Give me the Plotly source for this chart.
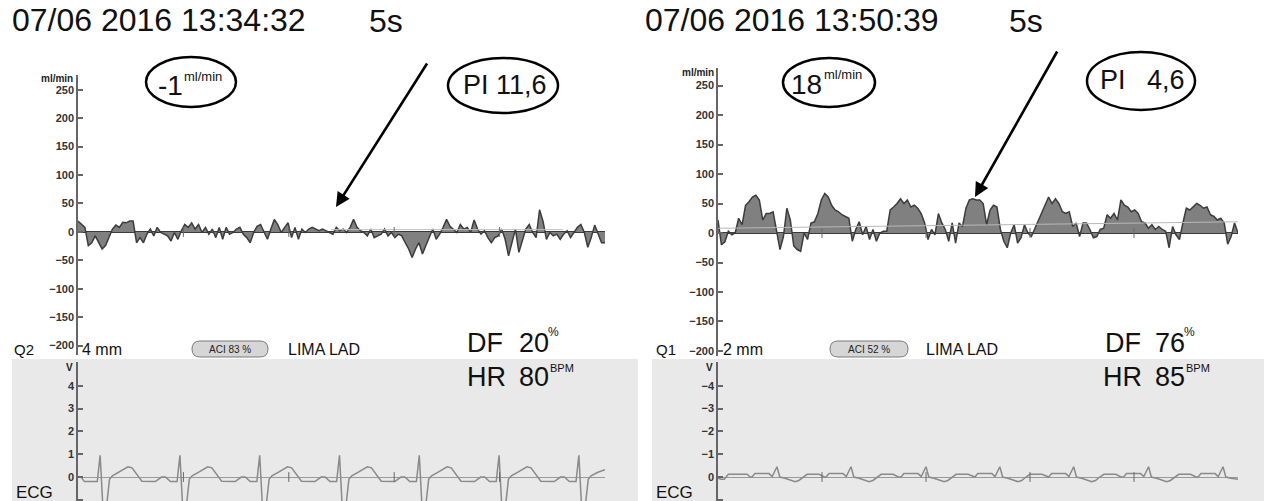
import plotly.graph_objects as go

W, H = 1264, 501
def px(x): return x / W
def py(y): return 1 - y / H

FONT = "Liberation Sans, Arial, sans-serif"

# ---------------- data ----------------
flow_left = [19, 13, 8, -24, -19, -7, -19, -30, -24, -10, 5, 12, 8, 17, 16, 19, 19, -19, -10, -19,
             -4, 5, -7, 8, -1, -4, -7, -16, -1, -13, 2, 13, 8, 16, 5, 13, -1, 8, -4, 5,
             -10, 8, -13, 8, -4, -1, 5, 8, -4, -10, -19, -1, 10, 13, -1, -13, 5, 22, 13, -1,
             8, 16, -10, 8, -13, 5, -1, 5, 8, 5, 2, 5, 2, -1, -4, 8, 2, 5, -1, 8,
             22, 8, 2, -1, -7, 5, -10, -7, -4, 5, -7, -1, -10, -4, -7, -19, -30, -45, -30, -19,
             -39, -24, -10, 5, -13, -4, 8, 22, 10, 5, -1, 13, 5, 8, -1, 21, 5, -4, 2, -10,
             -19, -10, -7, 5, -13, -42, -19, 5, -36, -13, 5, 13, -1, -10, 39, 19, -13, -1, -7, -4,
             -13, -4, 2, -10, -1, 8, 13, -1, -27, -10, 12, -4, -19, -19]
flow_right = [22, -20, -15, 3, -3, 0, 25, 14, 47, 53, 61, 64, 56, 22, 33, 33, 36, 6, -28, -6,
              42, 22, -22, -28, -31, 0, -11, 17, 19, 33, 56, 67, 61, 47, 39, 36, 31, 28, 25, -14,
              6, 19, -3, 11, -11, 6, -14, 0, 3, 3, 39, 44, 50, 58, 50, 56, 44, 47, 42, 33,
              17, -11, 6, -3, 33, 17, 6, -14, 17, -17, 17, 11, 42, 56, 58, 56, 56, 50, 14, 39,
              47, 44, 6, -14, -25, 0, 14, -17, -8, 14, 0, -6, 8, 22, 33, 50, 61, 50, 58, 50,
              36, 33, 36, 11, 17, -6, 17, 17, 6, -8, -6, 6, 8, 31, 25, 33, 22, 56, 47, 44,
              36, 39, 33, 19, 17, 8, 14, 6, 11, 6, 3, -25, 11, -3, -11, 17, 42, 39, 44, 50,
              47, 42, 44, 31, 28, 22, 25, 17, -19, -6, 17, 0]
flow_mean_left_t = [2.4, 4.6]
flow_mean_left_v = [4, 4]
flow_mean_right_t = [0.0, 5.0]
flow_mean_right_v = [8, 19]
flow_ticks = [250, 200, 150, 100, 50, 0, -50, -100, -150, -200]
second_marks = [1, 2, 3, 4]

# left ECG: R-peak times (s) and one read beat shape
ecg_left_peaks = [0.210, 0.967, 1.724, 2.481, 3.238, 3.995, 4.752]
ecg_left_beat_dt = [-0.027, 0, 0.027, 0.058, 0.089, 0.116, 0.175, 0.264, 0.303, 0.369, 0.396, 0.524, 0.582, 0.62, 0.667]
ecg_left_beat_v = [-0.2, 0.95, -1.4, -1.4, -0.1, 0.05, 0.2, 0.45, 0.4, 0.0, -0.18, -0.2, 0.0, 0.0, -0.2]
ecg_left_head_t, ecg_left_head_v = [0.0, 0.03, 0.06], [0.0, 0.0, -0.2]
ecg_left_tail_t, ecg_left_tail_v = [5.0], [0.32]
ecg_left_ticks = [4, 3, 2, 1, 0, -1]

# right ECG (axis is reversed on the monitor)
ecg_right_peaks = [0.567, 1.279, 2.0, 2.71, 3.42, 4.14, 4.856]
ecg_right_beat_dt = [-0.24, -0.212, -0.077, -0.046, 0, 0.027, 0.077, 0.174, 0.21, 0.251, 0.29, 0.405, 0.455]
ecg_right_beat_v = [0.0, -0.15, -0.15, -0.02, -0.45, 0.0, 0.05, 0.2, 0.15, 0.0, -0.12, -0.12, 0.0]
ecg_right_head_t, ecg_right_head_v = [0.0, 0.03, 0.06, 0.1, 0.28, 0.31], [0.05, 0.1, 0.1, -0.12, -0.12, 0.0]
ecg_right_tail_t, ecg_right_tail_v = [5.0], [0.1]
ecg_right_ticks = [-4, -3, -2, -1, 0, 1]


def build_ecg(head_t, head_v, peaks, dt, v, tail_t, tail_v):
    ts, vs = list(head_t), list(head_v)
    for p in peaks:
        for d, val in zip(dt, v):
            if p + d < tail_t[0]:
                ts.append(p + d)
                vs.append(val)
    return ts + list(tail_t), vs + list(tail_v)


eL_t, eL_v = build_ecg(ecg_left_head_t, ecg_left_head_v, ecg_left_peaks, ecg_left_beat_dt, ecg_left_beat_v,
                       ecg_left_tail_t, ecg_left_tail_v)
eR_t, eR_v = build_ecg(ecg_right_head_t, ecg_right_head_v, ecg_right_peaks, ecg_right_beat_dt, ecg_right_beat_v,
                       ecg_right_tail_t, ecg_right_tail_v)

tL = [5 * i / (len(flow_left) - 1) for i in range(len(flow_left))]
tR = [5 * i / (len(flow_right) - 1) for i in range(len(flow_right))]

fig = go.Figure()
FILL, LINE = "#808080", "#3c3c3c"
fig.add_trace(go.Scatter(x=tL, y=flow_left, mode="lines", fill="tozeroy", fillcolor=FILL,
                         line=dict(color=LINE, width=1.5), xaxis="x", yaxis="y"))
fig.add_trace(go.Scatter(x=flow_mean_left_t, y=flow_mean_left_v, mode="lines",
                         line=dict(color="#c0c0c0", width=1), xaxis="x", yaxis="y"))
fig.add_trace(go.Scatter(x=tR, y=flow_right, mode="lines", fill="tozeroy", fillcolor=FILL,
                         line=dict(color=LINE, width=1.5), xaxis="x2", yaxis="y2"))
fig.add_trace(go.Scatter(x=flow_mean_right_t, y=flow_mean_right_v, mode="lines",
                         line=dict(color="#b8b8b8", width=1), xaxis="x2", yaxis="y2"))
fig.add_trace(go.Scatter(x=eL_t, y=eL_v, mode="lines", line=dict(color="#8a8a8a", width=1.5),
                         xaxis="x3", yaxis="y3"))
fig.add_trace(go.Scatter(x=eR_t, y=eR_v, mode="lines", line=dict(color="#8a8a8a", width=1.5),
                         xaxis="x4", yaxis="y4"))
for xa, ya in [("x", "y"), ("x2", "y2"), ("x3", "y3"), ("x4", "y4")]:
    fig.add_trace(go.Scatter(x=second_marks, y=[0] * len(second_marks), mode="markers",
                             marker=dict(symbol="line-ns-open", size=7, color="#666",
                                         line=dict(color="#666", width=1)),
                             xaxis=xa, yaxis=ya))

tickfont = dict(family=FONT, size=11, color="#333", weight="bold")
def yax(domain, rng, ticks, zc, zw):
    return dict(domain=domain, range=rng, tickvals=ticks, showline=True, linecolor="#666", linewidth=1.5,
                ticks="inside", ticklen=5, tickcolor="#666", tickwidth=1.5, tickfont=tickfont,
                showgrid=False, zeroline=True, zerolinecolor=zc, zerolinewidth=zw, fixedrange=True)
def xax(domain, anchor):
    return dict(domain=domain, range=[0, 5], visible=False, showgrid=False, zeroline=False, anchor=anchor)

fig.update_layout(
    width=W, height=H, margin=dict(l=0, r=0, t=0, b=0), showlegend=False,
    paper_bgcolor="white", plot_bgcolor="rgba(0,0,0,0)",
    xaxis=xax([px(78), px(605)], "y"),
    yaxis=dict(anchor="x", **yax([py(355), py(75)], [-216.5, 276], flow_ticks, "#3a3a3a", 1.5)),
    xaxis2=xax([px(718), px(1238)], "y2"),
    yaxis2=dict(anchor="x2", **yax([py(356), py(68)], [-208.5, 279.7], flow_ticks, "#3a3a3a", 1.5)),
    xaxis3=xax([px(78), px(605)], "y3"),
    yaxis3=dict(anchor="x3", **yax([py(501), py(362)], [-1.05, 5.04], ecg_left_ticks, "#9a9a9a", 1)),
    xaxis4=xax([px(718), px(1238)], "y4"),
    yaxis4=dict(anchor="x4", **yax([py(501), py(362)], [1.05, -5.04], ecg_right_ticks, "#9a9a9a", 1)),
)

shapes = []
# grey ECG backgrounds
for x0, x1 in [(12, 638), (652, 1264)]:
    shapes.append(dict(type="rect", xref="paper", yref="paper", x0=px(x0), x1=px(x1), y0=py(501), y1=py(359),
                       fillcolor="#e9e9e9", line=dict(width=0), layer="below"))
# ellipses
for x0, x1, y0, y1 in [(146, 236, 57, 107), (448, 558, 58, 113), (783, 875, 58, 107), (1087, 1195, 52, 110)]:
    shapes.append(dict(type="circle", xref="paper", yref="paper", x0=px(x0), x1=px(x1), y0=py(y1), y1=py(y0),
                       line=dict(color="black", width=2.5)))
# ACI pills
def pill(x0, x1, y0, y1):
    r = (y1 - y0) / 2
    ym = (y0 + y1) / 2
    pts = (f"M {px(x0 + r)},{py(y0)} L {px(x1 - r)},{py(y0)} Q {px(x1)},{py(y0)} {px(x1)},{py(ym)} "
           f"Q {px(x1)},{py(y1)} {px(x1 - r)},{py(y1)} L {px(x0 + r)},{py(y1)} "
           f"Q {px(x0)},{py(y1)} {px(x0)},{py(ym)} Q {px(x0)},{py(y0)} {px(x0 + r)},{py(y0)} Z")
    return dict(type="path", xref="paper", yref="paper", path=pts, fillcolor="#d6d6d6",
                line=dict(color="#7a7a7a", width=1))
shapes.append(pill(192, 268, 341, 357))
shapes.append(pill(830, 908, 341, 357))
fig.update_layout(shapes=shapes)

ann = []
def t(s, x, y, size, xanchor="left", color="#111", weight="normal"):
    ann.append(dict(text=s, x=px(x), y=py(y), xref="paper", yref="paper", xanchor=xanchor, yanchor="middle",
                    showarrow=False, font=dict(family=FONT, size=size, color=color, weight=weight)))

for off, title in [(0, "07/06 2016 13:34:32"), (633, "07/06 2016 13:50:39")]:
    t(title, 10 + off, 20, 32)
t("5s", 367, 21, 32)
t("5s", 1007, 21, 32)
t("ml/min", 75, 78, 10, "right", "#222", "bold")
t("ml/min", 716, 72, 10, "right", "#222", "bold")
t("-1", 156, 86, 28)
t("ml/min", 182, 76, 13)
t("18", 789, 84, 28)
t("ml/min", 822, 74, 13)
t("PI 11,6", 505, 85, 27, "center")
t("PI", 1098, 80, 27)
t("4,6", 1145, 80, 27)
# bottom info rows
t("Q2", 12, 349, 15)
t("4 mm", 80, 349, 16)
t("ACI 83 %", 230, 349, 10, "center", "#222")
t("LIMA LAD", 286, 349, 16)
t("DF", 465, 343, 27)
t("20", 517, 343, 27)
t("%", 546, 332, 12)
t("HR", 465, 377, 27)
t("80", 517, 377, 27)
t("BPM", 548, 368, 11)
t("V", 75, 367, 10, "right", "#222", "bold")
t("ECG", 14, 492, 17)

t("Q1", 654, 349, 15)
t("2 mm", 721, 349, 16)
t("ACI 52 %", 869, 349, 10, "center", "#222")
t("LIMA LAD", 924, 349, 16)
t("DF", 1103, 343, 27)
t("76", 1153, 343, 27)
t("%", 1182, 332, 12)
t("HR", 1101, 377, 27)
t("85", 1153, 377, 27)
t("BPM", 1184, 368, 11)
t("V", 715, 367, 10, "right", "#222", "bold")
t("ECG", 654, 492, 17)

# arrows
for tip, tail in [((336, 207), (428, 62)), ((975, 197), (1058, 50))]:
    ann.append(dict(text="", x=px(tip[0]), y=py(tip[1]), xref="paper", yref="paper", showarrow=True,
                    ax=tail[0] - tip[0], ay=tail[1] - tip[1], arrowhead=2, arrowsize=1.1, arrowwidth=2.6,
                    arrowcolor="black"))
fig.update_layout(annotations=ann)

fig.write_html("out.html")
